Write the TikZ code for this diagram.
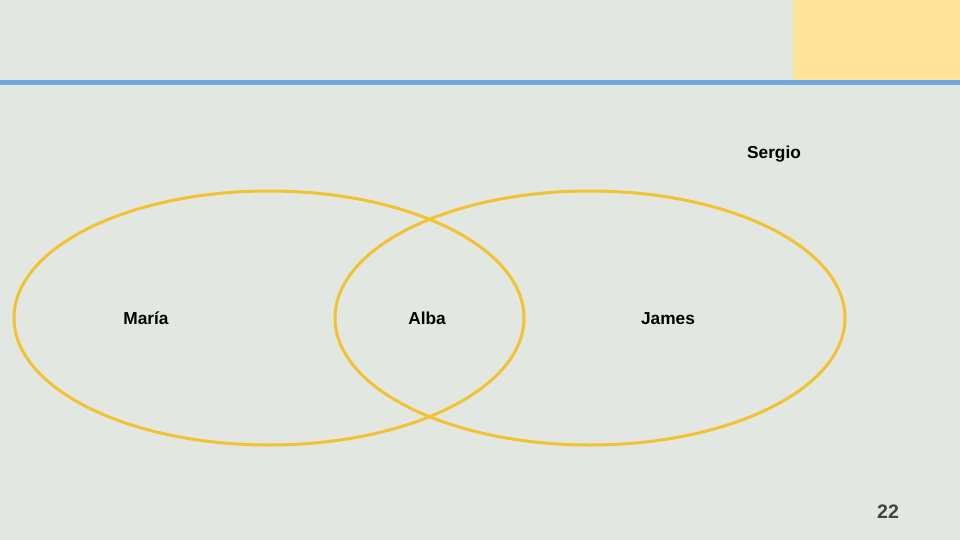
\documentclass[tikz,border=0pt]{standalone}
\usepackage{fontspec}
\setmainfont{Liberation Sans}
\definecolor{slidebg}{HTML}{E2E7E1}
\definecolor{setline}{HTML}{F1C232}
\definecolor{corner}{HTML}{FFE599}
\definecolor{rule}{HTML}{6FA8DC}
\definecolor{pagenum}{HTML}{434343}
\begin{document}
\begin{tikzpicture}[x=1pt,y=-1pt]
				\tikzstyle{person} = [font=\fontsize{17.3}{20}\selectfont\bfseries,text=black,inner sep=0pt,anchor=base];
				\tikzstyle{setring} = [draw=setline,line width=3pt];
				\fill[slidebg] (0,0) rectangle (960,540);
				\useasboundingbox (0,0) rectangle (960,540);
				\fill[corner] (793,0) rectangle (960,81);
				\fill[rule] (0,80) rectangle (960,85);
				\draw[setring] (269,318) ellipse [x radius=255,y radius=127];
				\draw[setring] (590,318) ellipse [x radius=255,y radius=127];
				\node[person] (maria) at (146,324) {María};
				\node[person] (alba) at (427,324) {Alba};
				\node[person] (james) at (668,324) {James};
				\node[person] (sergio) at (774,159) {Sergio};
				\node[person,text=pagenum,font=\fontsize{19.5}{23}\selectfont\bfseries] (page) at (888,518) {22};
			\end{tikzpicture}
\end{document}
